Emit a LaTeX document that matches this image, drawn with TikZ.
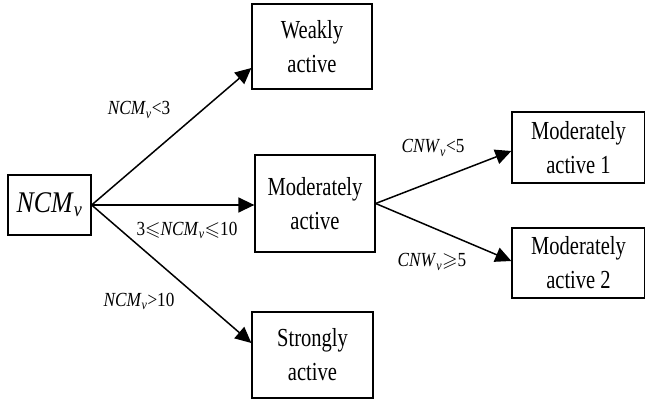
\documentclass[tikz,border=0pt]{standalone}
\usepackage{amssymb}
\usepackage{fontspec}
\setmainfont{Liberation Serif}[FakeStretch=0.79]
\newfontfamily\lblfont{Liberation Serif}[FakeStretch=0.86]
\usetikzlibrary{arrows.meta,positioning}
\newcommand\sbv{\textsubscript{\textit{v}}}
\begin{document}
\begin{tikzpicture}[x=1pt,y=1pt,
  boxnode/.style={draw,line width=1.3pt,align=center,inner sep=0pt,
    font=\fontsize{26}{34}\selectfont},
  lbl/.style={inner sep=0pt,font=\lblfont\fontsize{20}{22}\selectfont},
  arr/.style={line width=1.5pt,-{Triangle[length=16pt,width=15pt]}}]
\useasboundingbox (0,0) rectangle (645,-403);
\node[boxnode,minimum width=83,minimum height=60,font=\lblfont\fontsize{30}{32}\selectfont] (ncm) at (49.5,-205) {\textit{NCM}\sbv};
\node[boxnode,minimum width=120,minimum height=85] (weak) at (312,-46.5) {Weakly\\active};
\node[boxnode,minimum width=120,minimum height=97] (mod) at (315,-203.5) {Moderately\\active};
\node[boxnode,minimum width=121,minimum height=86] (strong) at (312.5,-355) {Strongly\\active};
\node[boxnode,minimum width=133,minimum height=71] (m1) at (578.5,-147.5) {Moderately\\active 1};
\node[boxnode,minimum width=133,minimum height=70] (m2) at (578.5,-263) {Moderately\\active 2};
\draw[arr] (ncm.east) -- ([yshift=-21.5]weak.west);
\draw[arr] (ncm.east) -- (ncm.east -| mod.west);
\draw[arr] (ncm.east) -- ([yshift=12]strong.west);
\draw[arr] (mod.east) -- ([yshift=-3.5]m1.west);
\draw[arr] (mod.east) -- ([yshift=2]m2.west);
\node[lbl] (l1) at (139,-110) {\textit{NCM}\sbv{<}3};
\node[lbl] (l2) at (187,-230) {3$\leqslant$\textit{NCM}\sbv$\leqslant$10};
\node[lbl] (l3) at (139,-301) {\textit{NCM}\sbv{>}10};
\node[lbl] (l4) at (433,-148) {\textit{CNW}\sbv{<}5};
\node[lbl] (l5) at (432,-262) {\textit{CNW}\sbv$\geqslant$5};
\end{tikzpicture}
\end{document}
